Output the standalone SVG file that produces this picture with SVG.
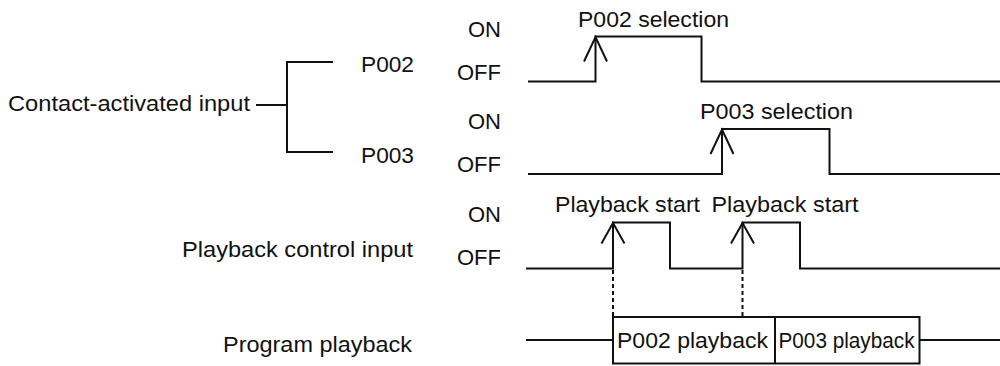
<svg xmlns="http://www.w3.org/2000/svg" width="1000" height="366" viewBox="0 0 1000 366">
<style>
text{font-family:"Liberation Sans",Arial,Helvetica,sans-serif;font-size:22px;fill:#111}
.st{text-anchor:end}
.w{fill:none;stroke:#111;stroke-width:2;stroke-linejoin:miter}
.ah{fill:none;stroke:#111;stroke-width:2}
.d{fill:none;stroke:#111;stroke-width:2;stroke-dasharray:4 3}
.box{fill:#fff;stroke:#111;stroke-width:2}
</style>
<rect width="1000" height="366" fill="#fff"/>

<g id="label-contact">
<text x="8" y="111" textLength="242" lengthAdjust="spacingAndGlyphs">Contact-activated input</text>
</g>
<g id="label-p002">
<text x="361" y="71.5" textLength="53" lengthAdjust="spacingAndGlyphs">P002</text>
</g>
<g id="label-p003">
<text x="361" y="163" textLength="53" lengthAdjust="spacingAndGlyphs">P003</text>
</g>
<g id="label-playback-control">
<text x="182" y="257" textLength="231" lengthAdjust="spacingAndGlyphs">Playback control input</text>
</g>
<g id="label-program-playback">
<text x="223" y="351.5" textLength="189" lengthAdjust="spacingAndGlyphs">Program playback</text>
</g>

<g id="levels">
<text class="st" x="501" y="36.5">ON</text>
<text class="st" x="501" y="80">OFF</text>
<text class="st" x="501" y="128.5">ON</text>
<text class="st" x="501" y="171.5">OFF</text>
<text class="st" x="501" y="221.5">ON</text>
<text class="st" x="501" y="265">OFF</text>
</g>

<g id="signal-p002">
<polyline class="w" points="528,81.5 595.5,81.5 595.5,36.5 701.5,36.5 701.5,81.5 1000,81.5"/>
<polyline class="ah" points="584,61.5 595.5,37 607,61.5"/>
<text x="578" y="27" textLength="151" lengthAdjust="spacingAndGlyphs">P002 selection</text>
</g>

<g id="signal-p003">
<polyline class="w" points="528,174 722,174 722,129 829.5,129 829.5,174 1000,174"/>
<polyline class="ah" points="710.5,154 722,129.5 733.5,154"/>
<text x="700" y="118.5" textLength="153" lengthAdjust="spacingAndGlyphs">P003 selection</text>
</g>

<g id="signal-playback">
<polyline class="w" points="526,268.5 613,268.5 613,222.5 670,222.5 670,268.5 742.5,268.5 742.5,222.5 800,222.5 800,268.5 1000,268.5"/>
<polyline class="ah" points="601.5,243.5 613,223 624.5,243.5"/>
<polyline class="ah" points="731,243.5 742.5,223 754,243.5"/>
<text x="555" y="211.5" textLength="145" lengthAdjust="spacingAndGlyphs">Playback start</text>
<text x="711.5" y="211.5" textLength="147" lengthAdjust="spacingAndGlyphs">Playback start</text>
</g>

<g id="program-playback">
<line class="w" x1="526" y1="340" x2="613" y2="340"/>
<line class="w" x1="919.5" y1="340" x2="1000" y2="340"/>
<rect class="box" x="613" y="317" width="306.5" height="46.5"/>
<line class="w" x1="775" y1="317" x2="775" y2="363.5"/>
<text x="617" y="348" textLength="151" lengthAdjust="spacingAndGlyphs">P002 playback</text>
<text x="778.5" y="348" textLength="136" lengthAdjust="spacingAndGlyphs">P003 playback</text>
</g>

<g id="connectors">
<polyline class="w" points="333,62 287,62 287,152 333,152"/>
<line class="w" x1="256" y1="105" x2="287" y2="105"/>
<line class="d" x1="613" y1="270" x2="613" y2="316"/>
<line class="d" x1="742.5" y1="270" x2="742.5" y2="316"/>
</g>
</svg>
